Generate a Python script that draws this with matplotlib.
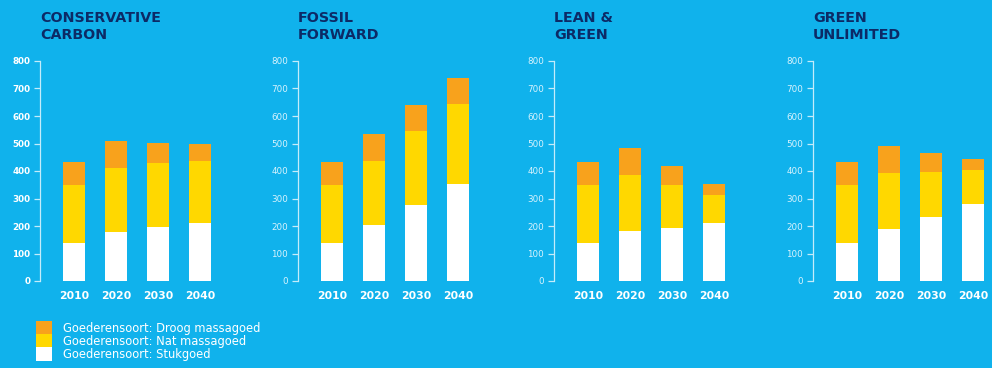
import matplotlib
matplotlib.use("Agg")
import matplotlib.pyplot as plt
from matplotlib.patches import Patch

years = ["2010", "2020", "2030", "2040"]
scenarios = ["CONSERVATIVE\nCARBON", "FOSSIL\nFORWARD", "LEAN &\nGREEN", "GREEN\nUNLIMITED"]

# cumulative tops, per scenario
stukgoed = [
    [137, 179, 195, 210],
    [137, 202, 276, 354],
    [137, 181, 194, 210],
    [137, 190, 234, 281],
]
nat_top = [
    [348, 410, 428, 437],
    [348, 435, 545, 645],
    [348, 387, 349, 313],
    [348, 393, 398, 402],
]
droog_top = [
    [432, 508, 502, 498],
    [432, 536, 639, 739],
    [432, 484, 418, 354],
    [432, 490, 465, 444],
]
labels = ["Goederensoort: Droog massagoed",
          "Goederensoort: Nat massagoed",
          "Goederensoort: Stukgoed"]

BG = "#10b2ec"
ORANGE = "#f8a21c"
YELLOW = "#ffd800"
WHITE = "#ffffff"
NAVY = "#0c2a66"
AXIS = "#c4ecfb"

W, H = 992, 368
fig = plt.figure(figsize=(W / 100, H / 100), dpi=100)
fig.patch.set_facecolor(BG)

lefts = [40, 298, 554, 813]
x = range(len(years))
for i, name in enumerate(scenarios):
    ax = fig.add_axes([lefts[i] / W, (H - 281) / H, 173 / W, 220 / H])
    ax.set_facecolor(BG)
    white = stukgoed[i]
    nat = [a - b for a, b in zip(nat_top[i], white)]
    droog = [a - b for a, b in zip(droog_top[i], nat_top[i])]
    ax.bar(x, white, width=0.52, color=WHITE)
    ax.bar(x, nat, width=0.52, bottom=white, color=YELLOW)
    ax.bar(x, droog, width=0.52, bottom=nat_top[i], color=ORANGE)
    ax.set_xlim(-0.8, 3.3)
    ax.set_ylim(0, 800)
    for s in ["top", "right", "bottom"]:
        ax.spines[s].set_visible(False)
    ax.spines["left"].set_color(AXIS)
    ax.spines["left"].set_linewidth(0.9)
    ax.set_yticks(range(0, 801, 100))
    if i == 0:
        ax.tick_params(axis="y", colors=AXIS, labelcolor="white", length=4,
                       width=0.9, labelsize=6.3, pad=3)
        for t in ax.get_yticklabels():
            t.set_fontweight("bold")
    else:
        ax.tick_params(axis="y", colors=AXIS, labelcolor="#d8f3fd", length=4,
                       width=0.9, labelsize=6.3, pad=3)
    ax.set_xticks(list(x))
    ax.set_xticklabels(years, fontsize=7.8, fontweight="heavy", color="white")
    ax.tick_params(axis="x", length=0, pad=7)
    fig.text(lefts[i] / W, 1 - 11 / H, name, ha="left", va="top", fontsize=10.3,
             fontweight="heavy", color=NAVY, linespacing=1.25)

handles = [Patch(facecolor=c, edgecolor="none") for c in [ORANGE, YELLOW, WHITE]]
leg = fig.legend(handles, labels, loc="upper left", bbox_to_anchor=(36 / W, 1 - 321 / H),
                 frameon=False, fontsize=8.3, labelcolor="white", handlelength=1.4,
                 handleheight=1.5, labelspacing=-0.1, handletextpad=0.95,
                 borderpad=0, borderaxespad=0)

fig.savefig("out.png", dpi=100, facecolor=BG)
